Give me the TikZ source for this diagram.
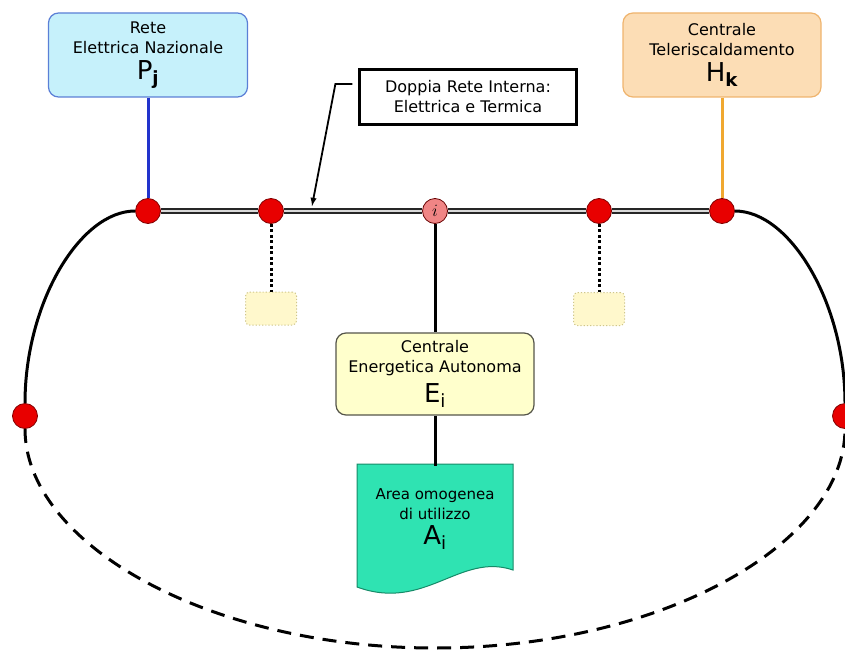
\documentclass[tikz,border=0pt]{standalone}
\usepackage{fontspec}
\setmainfont{DejaVu Sans}
\usetikzlibrary{arrows}

\definecolor{celeste}{HTML}{C6F1FB}
\definecolor{bordoblu}{HTML}{5B7FD6}
\definecolor{pesca}{HTML}{FCDDB5}
\definecolor{bordoarancio}{HTML}{EFB46E}
\definecolor{giallino}{HTML}{FFFFCC}
\definecolor{bordogiallo}{HTML}{55554A}
\definecolor{crema}{HTML}{FFF8CC}
\definecolor{bordocrema}{HTML}{CFC68A}
\definecolor{verdeacqua}{HTML}{2FE3B2}
\definecolor{bordoverde}{HTML}{168A68}
\definecolor{rosso}{HTML}{E80000}
\definecolor{rosa}{HTML}{F08585}
\definecolor{blu}{HTML}{2233CC}
\definecolor{arancio}{HTML}{F0A830}

\newcommand{\grande}{\fontsize{26}{30}\selectfont}

\tikzset{
    scatola/.style={rectangle, rounded corners=10pt, line width=1.2pt, align=center, inner sep=0pt, font=\fontsize{16}{20}\selectfont},
    punto/.style={circle, draw=red!50!black, fill=rosso, line width=0.8pt, minimum size=25pt, inner sep=0pt},
    filo/.style={line width=3pt},
    bus/.style={line width=1.7pt, draw=black!85, double=gray!30, double distance=2.6pt},
}

\begin{document}
\begin{tikzpicture}[>=latex, x=1pt, y=-1pt] %坐标按像素, y 向下
    \useasboundingbox (0,0) rectangle (845,650);
    % 上方两个盒子
    \node[scatola, draw=bordoblu, fill=celeste, minimum width=199pt, minimum height=84pt] (rete) at (148,55) {Rete\\Elettrica Nazionale\\[6pt]{\grande P\textsubscript{\textbf{j}}}};
    \node[scatola, draw=bordoarancio, fill=pesca, minimum width=198pt, minimum height=84pt] (tele) at (722,55) {Centrale\\Teleriscaldamento\\[6pt]{\grande H\textsubscript{\textbf{k}}}};
    \node[draw, line width=2.2pt, fill=white, minimum width=217pt, minimum height=55pt, align=center, inner sep=0pt, font=\fontsize{16}{20}\selectfont] (doppia) at (468,97) {Doppia Rete Interna:\\Elettrica e Termica};
    % 母线上的点
    \node[punto] (pj) at (148,211) {};
    \node[punto] (d1) at (271,211) {};
    \node[punto, fill=rosa, draw=red!40!black, font=\fontsize{17}{17}\selectfont] (i) at (435,211) {$i$};
    \node[punto] (d2) at (599,211) {};
    \node[punto] (hk) at (722,211) {};
    \node[punto] (sx) at (25,416) {};
    \node[punto] (dx) at (845,416) {};
    \coordinate (bot) at (435,648);
    \coordinate (freccia) at (312,206);
    % 虚线小盒子
    \node[scatola, rounded corners=4pt, draw=bordocrema, fill=crema, dotted, line width=1pt, minimum width=51pt, minimum height=33pt] (v1) at (271,308.5) {};
    \node[scatola, rounded corners=4pt, draw=bordocrema, fill=crema, dotted, line width=1pt, minimum width=51pt, minimum height=33pt] (v2) at (599,309) {};
    \node[scatola, draw=bordogiallo, fill=giallino, minimum width=198pt, minimum height=82pt] (ene) at (435,374) {Centrale\\Energetica Autonoma\\[7pt]{\grande E\textsubscript{i}}};
    % 文档形状, 先填充再写字
    \draw[fill=verdeacqua, draw=bordoverde, line width=1pt] (357,464) -- (513,464) -- (513,570) .. controls (460,552) and (425,612) .. (357,587) -- cycle;
    \node[align=center, inner sep=0pt, minimum width=156pt, minimum height=106pt, font=\fontsize{15}{20}\selectfont] (area) at (435,519) {Area omogenea\\di utilizzo\\[5pt]{\grande A\textsubscript{i}}};
    % 连线
    \draw[filo, blu] (rete) -- (pj);
    \draw[filo, arancio] (tele) -- (hk);
    \foreach \a/\b in {pj/d1, d1/i, i/d2, d2/hk}
        \draw[bus] (\a) -- (\b);
    \draw[filo] (i) -- (ene);
    \draw[filo] (ene) -- (area);
    \draw[filo, dash pattern=on 3pt off 2.5pt] (d1) -- (v1);
    \draw[filo, dash pattern=on 3pt off 2.5pt] (d2) -- (v2);
    \draw[filo] (pj) .. controls (80,211) and (25,303) .. (sx);
    \draw[filo] (hk) .. controls (790,211) and (845,303) .. (dx);
    \draw[filo, dash pattern=on 14pt off 9pt] (sx) .. controls (25,544) and (209,648) .. (bot) .. controls (661,648) and (845,544) .. (dx);
    \draw[->, line width=1.8pt] ([xshift=-6pt,yshift=13pt]doppia.west) -- ++(-17,0) -- (freccia);
\end{tikzpicture}
\end{document}
